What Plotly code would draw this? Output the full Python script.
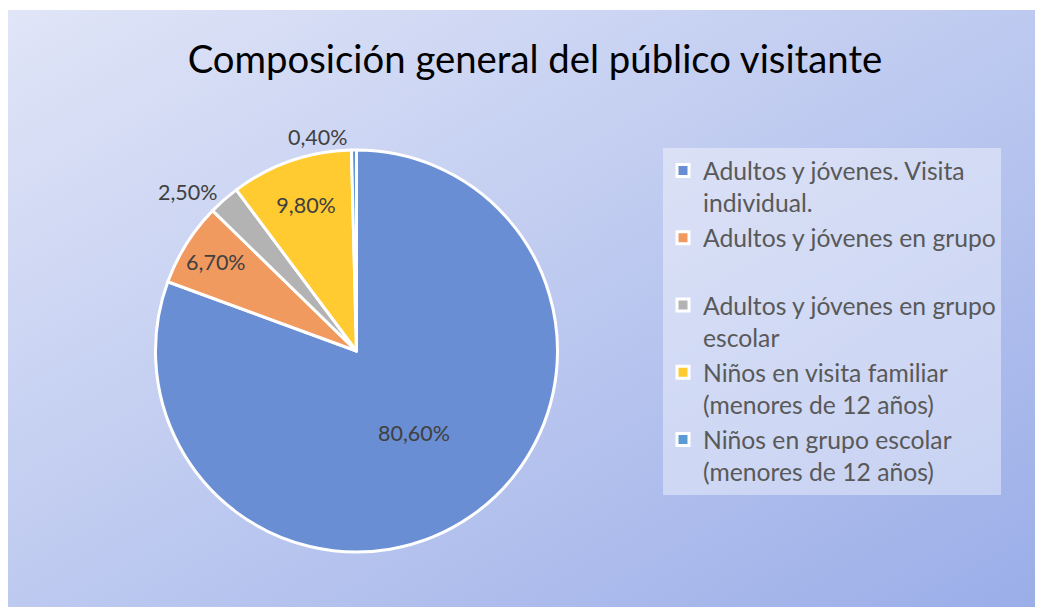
import base64
import plotly.graph_objects as go

# ---- data ----
categories = [
    "Adultos y jóvenes. Visita<br>individual.",
    "Adultos y jóvenes en grupo<br> ",
    "Adultos y jóvenes en grupo<br>escolar",
    "Niños en visita familiar<br>(menores de 12 años)",
    "Niños en grupo escolar<br>(menores de 12 años)",
]
values = [80.6, 6.7, 2.5, 9.8, 0.4]
colors = ["#6A8ED3", "#F09A60", "#B3B3B3", "#FFCB30", "#5B9BD5"]
text_positions = ["inside", "inside", "outside", "inside", "outside"]
title_text = "Composición general del público visitante"

labels_text = [f"{v:.2f}%".replace(".", ",") for v in values]

W, H = 1043, 607
OFF = 8  # page body margin


def px(x):
    return (x - OFF) / W


def py(y):
    return 1 - (y - OFF) / H


# background gradient as an SVG image
svg = (
    '<svg xmlns="http://www.w3.org/2000/svg" width="1043" height="605" preserveAspectRatio="none">'
    '<defs><linearGradient id="g" x1="0" y1="0" x2="1" y2="1">'
    '<stop offset="0" stop-color="#E0E5F7"/>'
    '<stop offset="1" stop-color="#9AADE8"/>'
    '</linearGradient></defs>'
    '<rect width="1043" height="605" fill="url(#g)"/></svg>'
)
svg_uri = "data:image/svg+xml;base64," + base64.b64encode(svg.encode()).decode()

fig = go.Figure()
fig.add_trace(go.Pie(
    labels=categories,
    values=values,
    text=labels_text,
    textinfo="text",
    textposition=text_positions,
    insidetextorientation="horizontal",
    sort=False,
    direction="clockwise",
    rotation=0,
    marker=dict(colors=colors, line=dict(color="white", width=3)),
    textfont=dict(family="Lato", size=21.5, color="#404040"),
    outsidetextfont=dict(family="Lato", size=21.5, color="#404040"),
    insidetextfont=dict(family="Lato", size=21.5, color="#404040"),
    domain=dict(x=[px(155), px(558)], y=[py(552), py(150)]),
    hoverinfo="label+percent",
))

fig.update_layout(
    width=W, height=H,
    margin=dict(l=0, r=0, t=0, b=0),
    paper_bgcolor="white",
    title=dict(text=title_text, x=px(535), xanchor="center", y=py(60), yanchor="middle",
               font=dict(family="Lato", size=38.3, color="#000000")),
    legend=dict(
        x=px(663), xanchor="left", y=py(148), yanchor="top",
        bgcolor="rgba(255,255,255,0.4)",
        font=dict(family="Lato", size=24.7, color="#595959"),
        valign="top",
        traceorder="normal",
    ),
    images=[dict(source=svg_uri, xref="paper", yref="paper", x=0, y=1 - 2 / H,
                 sizex=1, sizey=605 / H, xanchor="left", yanchor="top",
                 sizing="stretch", layer="below")],
)

fig.write_html("out.html")
